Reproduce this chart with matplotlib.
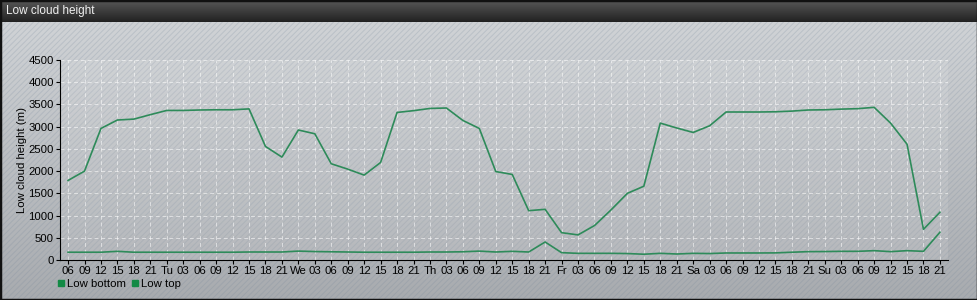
import numpy as np
import matplotlib
matplotlib.use("Agg")
import matplotlib.pyplot as plt
from matplotlib.lines import Line2D
from matplotlib.patches import Rectangle

# data (3-hourly, Mo 06 .. Su 21)
hours = ["06", "09", "12", "15", "18", "21"] + [
    h for d in ["Tu", "We", "Th", "Fr", "Sa", "Su"]
    for h in [d, "03", "06", "09", "12", "15", "18", "21"]
]

low_bottom = [175, 175, 175, 195, 175, 175, 175, 175, 175, 175, 175, 180,
              180, 180, 200, 190, 185, 180, 175, 175, 175, 175, 180, 180,
              185, 200, 180, 195, 180, 405, 165, 150, 150, 150, 145, 130,
              150, 135, 150, 145, 158, 158, 158, 160, 175, 188, 190, 195,
              195, 210, 188, 210, 195, 625]

low_top = [1790, 2000, 2960, 3150, 3170, 3270, 3365, 3365, 3375, 3380,
           3380, 3400, 2555, 2315, 2925, 2840, 2165, 2045, 1910, 2195,
           3320, 3360, 3410, 3420, 3140, 2960, 1990, 1925, 1110, 1140,
           615, 565, 775, 1125, 1500, 1660, 3080, 2970, 2870, 3020,
           3330, 3330, 3330, 3335, 3350, 3375, 3380, 3395, 3405, 3435,
           3080, 2605, 690, 1075]

line_color = "#2e8b5a"
marker_color = "#138a45"

plt.rcParams["font.family"] = ["Liberation Sans", "DejaVu Sans"]
plt.rcParams["font.size"] = 8
plt.rcParams["hatch.linewidth"] = 0.7


def main():
    fig = plt.figure(figsize=(9.78, 3.0), dpi=100)
    draw_background(fig)
    draw_chart(fig)
    fig.savefig("out.png", dpi=100)


def draw_background(fig):
    bg = fig.add_axes([0, 0, 1, 1], zorder=-10)
    grad = np.linspace(0, 1, 256).reshape(-1, 1)
    cmap = matplotlib.colors.LinearSegmentedColormap.from_list(
        "bg", ["#d3d6d9", "#a8abaf"])
    bg.imshow(grad, aspect="auto", cmap=cmap, extent=[0, 1, 0, 1],
              origin="upper", zorder=0)
    # faint diagonal stripes
    bg.add_patch(Rectangle((0, 0), 1, 1, facecolor="none", hatch="//////",
                           edgecolor=(0.45, 0.52, 0.6, 0.22), linewidth=0,
                           zorder=1))
    # header bar
    head = np.linspace(0, 1, 64).reshape(-1, 1)
    hcmap = matplotlib.colors.LinearSegmentedColormap.from_list(
        "hd", ["#585858", "#222222"])
    bg.imshow(head, aspect="auto", cmap=hcmap,
              extent=[0, 1, 1 - 22 / 300, 1], origin="upper", zorder=2)
    bg.add_patch(Rectangle((0, 0), 1, 1, facecolor="none",
                           edgecolor="#111111", linewidth=2.5, zorder=3))
    bg.set_xlim(0, 1)
    bg.set_ylim(0, 1)
    bg.axis("off")
    fig.text(6 / 978, 1 - 11 / 300, "Low cloud height", color="#f0f0f0",
             fontsize=8.5, va="center", ha="left")


def draw_chart(fig):
    ax = fig.add_axes([60 / 978, 40 / 300, 888 / 978, 200 / 300])
    ax.set_facecolor((1, 1, 1, 0.1))
    x = np.arange(len(hours))

    ax.plot(x, low_bottom, color=line_color, lw=1.2)
    ax.plot(x, low_top, color=line_color, lw=1.2)

    ax.set_xlim(-0.49, len(hours) - 1 + 0.49)
    ax.set_ylim(0, 4500)
    ax.set_yticks(np.arange(0, 4501, 500))
    ax.set_xticks(x)
    ax.set_xticklabels(hours)
    ax.tick_params(length=3, width=0.8, pad=1.5, colors="black",
                   labelsize=8.2)

    ax.grid(True, color="white", linestyle=(0, (4, 3)), lw=0.7, alpha=0.55)
    for s in ["top", "right"]:
        ax.spines[s].set_visible(False)
    ax.spines["left"].set_linewidth(0.8)
    ax.spines["bottom"].set_linewidth(0.8)

    ax.set_ylabel("Low cloud height (m)", fontsize=8.2)
    ax.yaxis.set_label_coords(-0.037, 0.5)

    handles = [
        Line2D([], [], marker="s", color=marker_color, lw=0, markersize=5),
        Line2D([], [], marker="s", color=marker_color, lw=0, markersize=5),
    ]
    fig.legend(handles, ["Low bottom", "Low top"], loc="center left",
               bbox_to_anchor=(58 / 978, 1 - 284 / 300), ncol=2,
               frameon=False, handlelength=0.6, handletextpad=0.2,
               columnspacing=0.5, borderaxespad=0, borderpad=0,
               fontsize=8.2)


if __name__ == "__main__":
    main()
